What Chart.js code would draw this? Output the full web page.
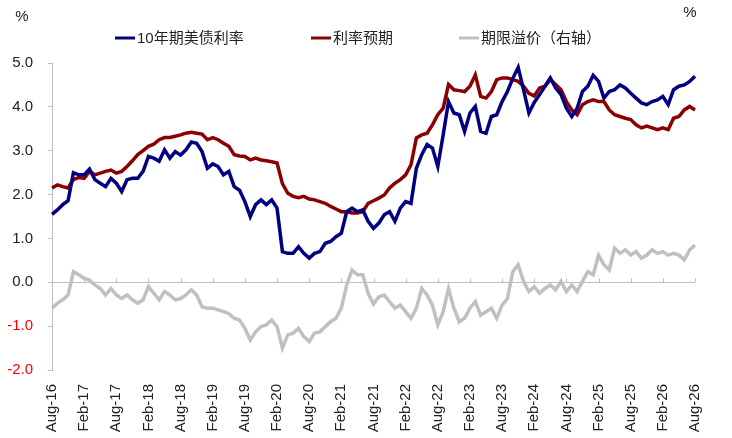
<!DOCTYPE html>
<html>
<head>
<meta charset="utf-8">
<script src="https://cdn.jsdelivr.net/npm/chart.js@4"></script>
<style>
  html, body { margin: 0; padding: 0; background: #fff; }
  #wrap { width: 732px; height: 438px; position: relative; }
</style>
</head>
<body>
<div id="wrap"><canvas id="chart"></canvas></div>
<script>
// x 轴刻度：每半年一个
const tickLabels = ["Aug-16", "Feb-17", "Aug-17", "Feb-18", "Aug-18", "Feb-19", "Aug-19",
    "Feb-20", "Aug-20", "Feb-21", "Aug-21", "Feb-22", "Aug-22", "Feb-23", "Aug-23",
    "Feb-24", "Aug-24", "Feb-25", "Aug-25", "Feb-26", "Aug-26"]

// 月度类别 2016-08 … 2026-08
const months = []
for (let i = 0; i <= 120; i++) {
    const y = 2016 + Math.floor((7 + i) / 12)
    const m = (7 + i) % 12 + 1
    months.push(`${y}-${String(m).padStart(2, "0")}`)
}

const yield10y = [
    1.55, 1.65, 1.77, 1.86, 2.50, 2.45, 2.45, 2.58, 2.34, 2.26, 2.18, 2.37, 2.26, 2.07, 2.34, 2.37,
    2.37, 2.53, 2.87, 2.83, 2.76, 3.02, 2.83, 2.98, 2.90, 3.02, 3.20, 3.17, 2.98, 2.60, 2.70,
    2.64, 2.45, 2.53, 2.18, 2.10, 1.84, 1.50, 1.77, 1.88, 1.77, 1.88, 1.69, 0.70, 0.66, 0.66,
    0.81, 0.66, 0.55, 0.66, 0.70, 0.89, 0.93, 1.04, 1.12, 1.61, 1.69, 1.61, 1.65, 1.39, 1.23,
    1.35, 1.54, 1.61, 1.39, 1.69, 1.84, 1.80, 2.60, 2.91, 3.14, 3.06, 2.64, 3.36, 4.12, 3.86,
    3.82, 3.44, 3.86, 4.01, 3.44, 3.40, 3.78, 3.82, 4.12, 4.35, 4.65, 4.90, 4.39, 3.86, 4.10,
    4.28, 4.47, 4.66, 4.43, 4.28, 3.97, 3.78, 3.97, 4.35, 4.47, 4.72, 4.58, 4.20, 4.35, 4.39,
    4.50, 4.43, 4.31, 4.20, 4.09, 4.05, 4.12, 4.16, 4.24, 4.05, 4.39, 4.47, 4.50, 4.58, 4.70
]

const rateExpect = [
    2.15, 2.22, 2.18, 2.15, 2.34, 2.39, 2.37, 2.53, 2.45, 2.49, 2.53, 2.56, 2.49, 2.53, 2.64, 2.77,
    2.91, 3.00, 3.10, 3.15, 3.25, 3.30, 3.30, 3.33, 3.36, 3.40, 3.42, 3.40, 3.38, 3.25, 3.30,
    3.25, 3.17, 3.10, 2.91, 2.88, 2.87, 2.79, 2.83, 2.79, 2.77, 2.75, 2.72, 2.25, 2.03, 1.96,
    1.93, 1.96, 1.90, 1.88, 1.84, 1.80, 1.73, 1.67, 1.61, 1.61, 1.58, 1.58, 1.61, 1.80, 1.86,
    1.92, 1.99, 2.15, 2.26, 2.34, 2.45, 2.68, 3.29, 3.36, 3.40, 3.59, 3.82, 3.97, 4.51, 4.39,
    4.37, 4.35, 4.47, 4.73, 4.24, 4.20, 4.35, 4.62, 4.66, 4.66, 4.62, 4.58, 4.47, 4.31, 4.25,
    4.43, 4.47, 4.62, 4.51, 4.39, 4.12, 3.93, 3.82, 4.05, 4.12, 4.16, 4.12, 4.12, 3.93, 3.82,
    3.78, 3.74, 3.71, 3.59, 3.52, 3.56, 3.52, 3.48, 3.52, 3.48, 3.74, 3.78, 3.93, 4.01, 3.93
]

const termPremium = [
    -0.59, -0.48, -0.40, -0.29, 0.24, 0.17, 0.09, 0.05, -0.06, -0.14, -0.29, -0.14, -0.29, -0.37, -0.29, -0.40,
    -0.48, -0.40, -0.10, -0.25, -0.40, -0.21, -0.29, -0.40, -0.37, -0.29, -0.17, -0.29, -0.56, -0.59, -0.59,
    -0.63, -0.67, -0.71, -0.82, -0.86, -1.05, -1.32, -1.13, -1.01, -0.97, -0.86, -1.01, -1.50, -1.20, -1.16,
    -1.05, -1.24, -1.35, -1.16, -1.13, -1.01, -0.90, -0.82, -0.59, -0.06, 0.28, 0.17, 0.17, -0.25, -0.50,
    -0.33, -0.29, -0.44, -0.59, -0.52, -0.67, -0.82, -0.59, -0.14, -0.29, -0.52, -0.97, -0.67, -0.14, -0.59,
    -0.90, -0.82, -0.59, -0.44, -0.75, -0.67, -0.59, -0.82, -0.52, -0.37, 0.24, 0.40, 0.02, -0.21, -0.10,
    -0.25, -0.14, -0.06, -0.17, 0.02, -0.21, -0.06, -0.21, 0.02, 0.24, 0.17, 0.62, 0.40, 0.28, 0.78,
    0.66, 0.74, 0.62, 0.70, 0.55, 0.62, 0.74, 0.66, 0.70, 0.62, 0.66, 0.62, 0.51, 0.74, 0.85
]

const seriesNames = ["10年期美债利率", "利率预期", "期限溢价（右轴）"]
const seriesColors = ["#000080", "#8b0000", "#c0c0c0"]

const FONT = '"Liberation Sans", Arial, "Noto Sans CJK SC", sans-serif'
const AXIS = "#bfbfbf"

// 图例 + 单位 + 零轴刻度
const decor = {
    id: "decor",
    afterDatasetsDraw(chart) {
        const {ctx, scales: {x, y}} = chart
        const y0 = y.getPixelForValue(0)
        ctx.save()
        ctx.strokeStyle = AXIS
        ctx.lineWidth = 1
        for (let i = 0; i < months.length; i += 6) {
            const px = Math.round(x.getPixelForValue(i)) + 0.5
            ctx.beginPath()
            ctx.moveTo(px, y0 - 4)
            ctx.lineTo(px, y0)
            ctx.stroke()
        }
        ctx.restore()
    },
    afterDraw(chart) {
        const ctx = chart.ctx
        ctx.save()
        ctx.font = `15px ${FONT}`
        ctx.fillStyle = "#222"
        ctx.textBaseline = "middle"
        ctx.textAlign = "center"
        ctx.fillText("%", 22, 17)
        ctx.fillText("%", 690, 13)
        ctx.textAlign = "left"
        const xs = [115, 311, 459]
        seriesNames.forEach((name, i) => {
            ctx.strokeStyle = seriesColors[i]
            ctx.lineWidth = 3
            ctx.beginPath()
            ctx.moveTo(xs[i], 38)
            ctx.lineTo(xs[i] + 20, 38)
            ctx.stroke()
            ctx.fillText(name, xs[i] + 22, 39)
        })
        ctx.restore()
    }
}

const line = (label, data, color, axis, order) => ({
    label, data,
    yAxisID: axis,
    borderColor: color,
    backgroundColor: color,
    borderWidth: 3.5,
    pointRadius: 0,
    tension: 0,
    order
})

new Chart(document.getElementById("chart"), {
    type: "line",
    data: {
        labels: months,
        datasets: [
            line(seriesNames[0], yield10y, seriesColors[0], "y", 1),
            line(seriesNames[1], rateExpect, seriesColors[1], "y", 2),
            line(seriesNames[2], termPremium, seriesColors[2], "y1", 3)
        ]
    },
    options: {
        responsive: true,
        maintainAspectRatio: false,
        animation: false,
        layout: {padding: {top: 63, right: 37, left: 0, bottom: 0}},
        plugins: {
            legend: {display: false},
            tooltip: {enabled: false}
        },
        scales: {
            x: {
                type: "category",
                offset: false,
                border: {display: false},
                grid: {display: false},
                afterFit: (s) => { s.height = 68 },
                ticks: {
                    autoSkip: false,
                    minRotation: 90,
                    maxRotation: 90,
                    padding: 6,
                    color: "#222",
                    font: {family: FONT, size: 15},
                    callback: (v, i) => i % 6 === 0 ? tickLabels[i / 6] : null
                }
            },
            y: {
                min: -2, max: 5,
                border: {display: true, color: AXIS},
                grid: {
                    drawOnChartArea: true,
                    color: (c) => c.tick && c.tick.value === 0 ? AXIS : "transparent",
                    tickColor: AXIS,
                    tickLength: 4
                },
                afterFit: (s) => { s.width = 52 },
                ticks: {
                    stepSize: 1,
                    padding: 15,
                    font: {family: FONT, size: 15},
                    color: (c) => c.tick.value < 0 ? "#ff0000" : "#222",
                    callback: (v) => v.toFixed(1)
                }
            },
            y1: {
                position: "right",
                display: false,
                min: -2, max: 5
            }
        }
    },
    plugins: [decor]
})
</script>
</body>
</html>
